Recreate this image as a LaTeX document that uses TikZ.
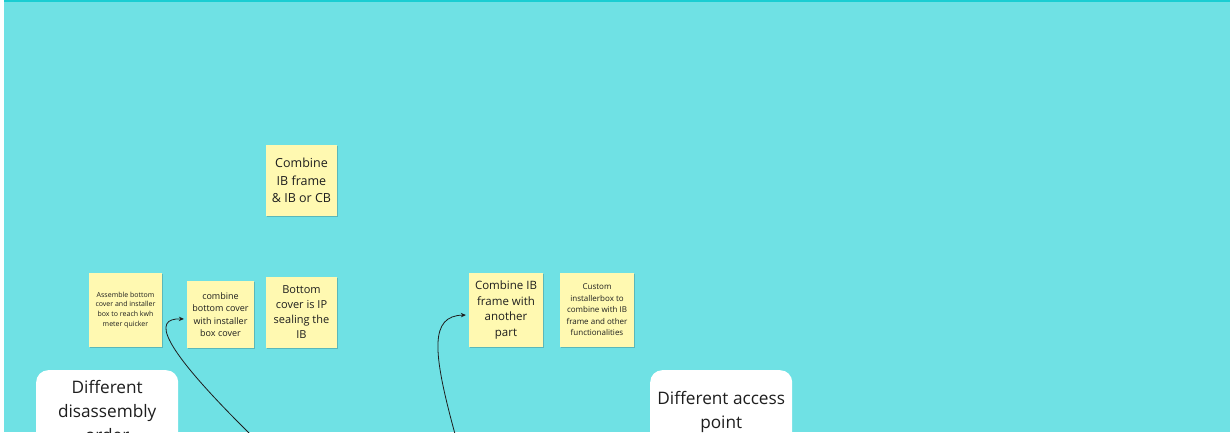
\documentclass[tikz,border=0pt]{standalone}
\usepackage{fontspec}
\setmainfont{Open Sans}
\usetikzlibrary{arrows.meta,shadows}
\definecolor{bgcyan}{RGB}{111,225,228}
\definecolor{topcyan}{RGB}{26,205,210}
\definecolor{sticky}{RGB}{255,249,177}
\definecolor{ink}{RGB}{30,30,30}
\tikzset{
  note/.style={rectangle, fill=sticky, draw=none, inner sep=0pt, align=center, text=ink,
    drop shadow={shadow xshift=0.6pt, shadow yshift=-1.2pt, opacity=0.18, fill=black}},
  whitebox/.style={rectangle, rounded corners=12pt, fill=white, draw=none, minimum width=142pt, minimum height=110pt, inner sep=0pt},
  boxtext/.style={align=center, text=ink, inner sep=0pt, font=\fontsize{17.2}{24}\selectfont},
  link/.style={draw=ink, line width=0.8pt, -{Stealth[length=5pt,width=4.5pt]}}
}
\begin{document}
\begin{tikzpicture}[x=1pt,y=-1pt]
\useasboundingbox (0,0) rectangle (1230,433);
\fill[white] (0,0) rectangle (1230,433);
\fill[bgcyan] (4,0) rectangle (1230,432);
\fill[topcyan] (4,0) rectangle (1230,2);

% sticky notes
\node[note, minimum width=71pt, minimum height=71pt, font=\fontsize{12.5}{17.5}\selectfont] (n1) at (301.5,180.5) {Combine\\IB frame\\\& IB or CB};
\node[note, minimum width=73pt, minimum height=74pt, font=\fontsize{7}{9.8}\selectfont] (n2) at (125.5,310) {Assemble bottom\\cover and installer\\box to reach kwh\\meter quicker};
\node[note, minimum width=67pt, minimum height=67pt, font=\fontsize{9}{12.3}\selectfont] (n3) at (220.5,314.5) {combine\\bottom cover\\with installer\\box cover};
\node[note, minimum width=71pt, minimum height=71pt, font=\fontsize{11}{15}\selectfont] (n4) at (301.5,312.5) {Bottom\\cover is IP\\sealing the\\IB};
\node[note, minimum width=74pt, minimum height=74pt, font=\fontsize{11.5}{15.6}\selectfont] (n5) at (506,310) {Combine IB\\frame with\\another\\part};
\node[note, minimum width=74pt, minimum height=74pt, font=\fontsize{8}{11.5}\selectfont] (n6) at (597,310) {Custom\\installerbox to\\combine with IB\\frame and other\\functionalities};

% white boxes
\node[whitebox, anchor=north west] (b1) at (36,370) {};
\node[boxtext, anchor=north] (t1) at ([yshift=-10pt]b1.north) {Different\\disassembly\\order};
\node[whitebox, anchor=north west] (b2) at (650,370) {};
\node[boxtext, anchor=north] (t2) at ([yshift=-21pt]b2.north) {Different access\\point};

% connectors
\coordinate (s1) at (250,434);
\coordinate (s2) at (455,434);
\draw[link] (s1) .. controls (160,345) and (152,318) .. ([xshift=-3pt]n3.west |- 0,319);
\draw[link] (s2) .. controls (432,350) and (430,316) .. ([xshift=-3pt]n5.west |- 0,315);
\end{tikzpicture}
\end{document}
